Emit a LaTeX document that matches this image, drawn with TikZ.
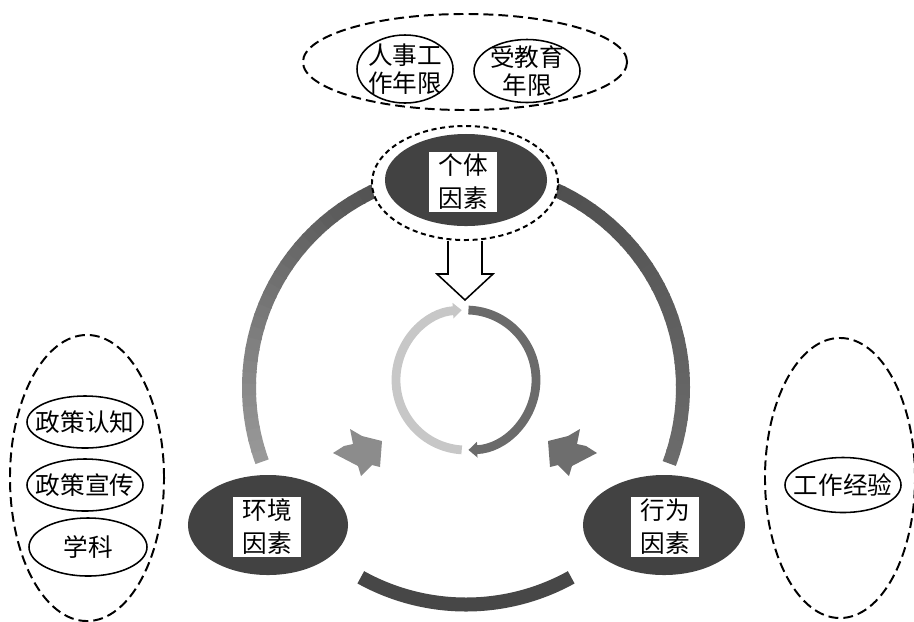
\documentclass[tikz,border=0pt]{standalone}
\usepackage{fontspec}
\setmainfont{Noto Sans CJK SC}
\usepackage{xcolor}
\usepackage{tikz}
\usetikzlibrary{arrows.meta, shapes.geometric}

\definecolor{factorfill}{gray}{0.26}

\begin{document}
\begin{tikzpicture}[x=0.025cm, y=-0.025cm,
  group/.style={draw, ellipse, line width=1.4pt, dash pattern=on 7pt off 3.6pt, inner sep=0pt},
  item/.style={draw, ellipse, line width=1.1pt, inner xsep=-8pt, inner ysep=-3pt, align=center,
               font=\fontsize{17.5}{20}\selectfont},
  factor/.style={ellipse, fill=factorfill, inner sep=0pt},
  factortext/.style={fill=white, minimum width=1.7cm, minimum height=1.5cm, inner sep=0pt,
                     align=center, font=\fontsize{17.5}{23.5}\selectfont},
  ring/.style={line width=0.35cm},
  loopline/.style={line width=0.22cm, -{Triangle[length=0.22cm, width=0.38cm]}}
]
  \useasboundingbox (0,0) rectangle (914,621);
  \coordinate (bigc) at (466,387.5);
  \coordinate (hub) at (466,380);

  % Outer ring: three arcs between the factors
  \foreach \a [evaluate=\a as \c using {40+30*(\a-160)/90}] in {160,163,...,250}
    \draw[ring, draw=black!\c] (bigc) ++(\a:217) arc[start angle=\a, delta angle=3.5, radius=217];
  \foreach \a [evaluate=\a as \c using {70-12*(\a-287)/90}] in {287,290,...,377}
    \draw[ring, draw=black!\c] (bigc) ++(\a:217) arc[start angle=\a, delta angle=3.5, radius=217];
  \draw[ring, draw=black!72] (bigc) ++(61:217) arc[start angle=61, end angle=119, radius=217];

  % Inner cycle
  \draw[loopline, draw=black!22] (hub) ++(93.5:70) arc[start angle=93.5, end angle=266.5, radius=70];
  \draw[loopline, draw=black!58] (hub) ++(272:70) arc[start angle=272, end angle=448, radius=70];

  % Push arrows toward the cycle
  \fill[black!45] (333,453) -- (344,446) -- (353,444) -- (350,429) -- (362,436) -- (382,441)
    -- (380,467) -- (372,465) -- (361,476) -- (358,466) -- cycle;
  \fill[black!57] (597,453) -- (586,446) -- (577,444) -- (580,429) -- (568,436) -- (548,441)
    -- (550,467) -- (558,465) -- (569,476) -- (572,466) -- cycle;

  % Individual factor (top)
  \node[group, fill=white, dash pattern=on 3.6pt off 2.6pt,
        minimum width=4.65cm, minimum height=2.85cm] (indivring) at (465,183) {};
  \node[factor, minimum width=4.05cm, minimum height=2.3cm] (indiv) at (466,180) {};
  \node[factortext] (indivtxt) at (463,182) {个体\\因素};
  \draw[line width=1.1pt] ([xshift=-0.425cm]indivring.south) -- ++(0,33) -- ++(-11,0)
    -- ++(28,26) -- ++(28,-26) -- ++(-11,0) -- ++(0,-33);

  \node[group, minimum width=8.1cm, minimum height=2.4cm] (topgroup) at (465,62) {};
  \node[item, minimum width=2.4cm, minimum height=1.7cm] (worklen) at (405,69) {人事工\\作年限};
  \node[item, minimum width=2.65cm, minimum height=1.575cm] (edulen) at (527,71) {受教育\\年限};

  % Environment factor (left)
  \node[factor, minimum width=4.0cm, minimum height=2.5cm] (env) at (268,525) {};
  \node[factortext] (envtxt) at (267,527) {环境\\因素};
  \node[group, minimum width=3.85cm, minimum height=7.15cm] (envgroup) at (87,478) {};
  \node[item, minimum width=2.9cm, minimum height=1.3cm] (polcog) at (85,422) {政策认知};
  \node[item, minimum width=2.9cm, minimum height=1.3cm] (polprop) at (85,485) {政策宣传};
  \node[item, minimum width=2.95cm, minimum height=1.45cm] (subject) at (88,547) {学科};

  % Behaviour factor (right)
  \node[factor, minimum width=4.05cm, minimum height=2.5cm] (beh) at (664,525) {};
  \node[factortext] (behtxt) at (665,527) {行为\\因素};
  \node[group, minimum width=3.75cm, minimum height=7.0cm] (behgroup) at (840,478) {};
  \node[item, minimum width=2.9cm, minimum height=1.375cm] (workexp) at (843,485) {工作经验};
\end{tikzpicture}
\end{document}
